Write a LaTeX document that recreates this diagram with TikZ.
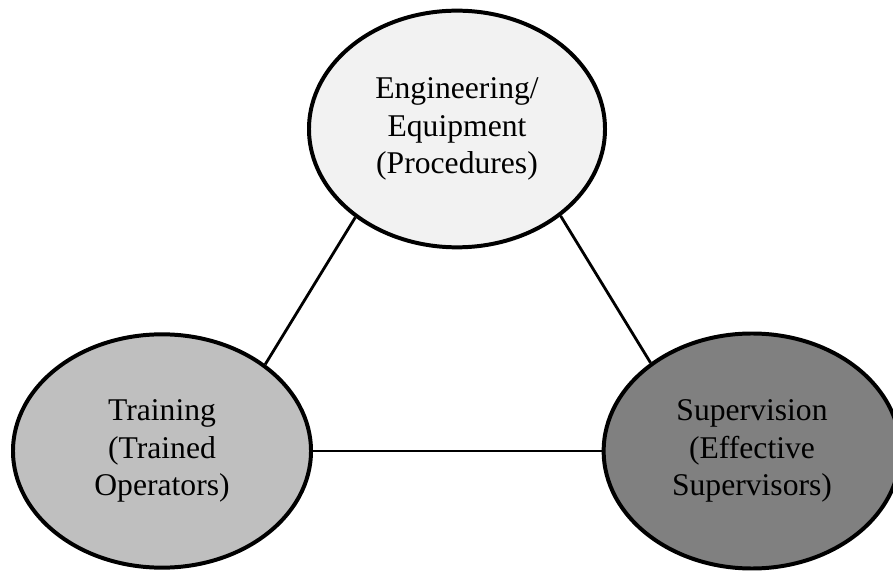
\documentclass[tikz,border=0pt]{standalone}
\usepackage{fontspec}
\setmainfont{Liberation Serif}
\usetikzlibrary{shapes.geometric}

\definecolor{engfill}{HTML}{F2F2F2}
\definecolor{trainfill}{HTML}{BFBFBF}
\definecolor{supfill}{HTML}{808080}

\begin{document}
\begin{tikzpicture}[
        x=0.03cm, y=-0.03cm,
        pillar/.style={ellipse, draw=black, line width=3.4pt, align=center, inner sep=0pt,
            font=\fontsize{27}{32}\selectfont},
        link/.style={draw=black, line width=2.4pt},
    ]
    \useasboundingbox (0,0) rectangle (893,573);

    %====================== PILLARS ======================
    \node[pillar, fill=engfill, minimum width=8.88cm, minimum height=7.1cm] (eng) at (457,129) {Engineering/\\Equipment\\(Procedures)};
    \node[pillar, fill=trainfill, minimum width=8.94cm, minimum height=7.0cm] (train) at (162,451) {Training\\(Trained\\Operators)};
    \node[pillar, fill=supfill, minimum width=8.9cm, minimum height=7.05cm] (sup) at (752,451) {Supervision\\(Effective\\Supervisors)};

    %====================== LINKS ======================
    \draw[link] (eng.221) -- (train.40);
    \draw[link] (eng.-40) -- (sup.139);
    \draw[link] (train.east) -- (sup.west);

\end{tikzpicture}
\end{document}
